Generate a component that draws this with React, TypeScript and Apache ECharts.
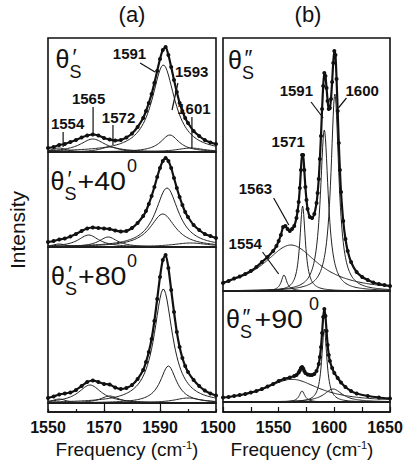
import React, { useEffect, useRef } from "react";
import * as echarts from "echarts";

// ---------- axes ----------
const A_X_MIN = 1550;
const A_X_MAX = 1610;
const B_X_MIN = 1500;
const B_X_MAX = 1650;
const A_TICK_LABELS = [1550, 1570, 1590];
const A_MAJOR_TICKS = [1570, 1590];
const B_TICK_LABELS = [1500, 1550, 1600, 1650];

// ---------- measured spectra (frequency, intensity) ----------
const A1_SPECTRUM = [
  [1550, 4], [1552, 5], [1554, 7], [1556, 8], [1558, 10], [1560, 12], [1562, 14.5], [1564, 16.5],
  [1566, 17.5], [1568, 16.5], [1570, 14], [1572, 12.5], [1574, 11.5], [1576, 12], [1578, 14.5],
  [1580, 18.5], [1582, 25], [1584, 34], [1585, 41], [1586, 49], [1587, 58], [1588, 69], [1589, 81],
  [1590, 93], [1591, 102], [1592, 105], [1593, 97], [1594, 85], [1595, 72], [1596, 60], [1597, 49],
  [1598, 41], [1599, 34], [1600, 29], [1602, 21], [1604, 16], [1606, 12], [1608, 9.5], [1610, 8],
];
const A2_SPECTRUM = [
  [1550, 5], [1552, 6], [1554, 7.5], [1556, 8.5], [1558, 10.5], [1560, 13], [1562, 16], [1564, 18.5],
  [1566, 19.5], [1568, 19], [1570, 18.5], [1572, 18], [1574, 16.5], [1576, 15.5], [1578, 16],
  [1580, 19], [1582, 24], [1584, 31], [1585, 36], [1586, 43], [1587, 51], [1588, 60], [1589, 70],
  [1590, 79], [1591, 86], [1592, 89], [1593, 86], [1594, 79], [1595, 69], [1596, 59], [1597, 50],
  [1598, 42], [1599, 35], [1600, 30], [1602, 22], [1604, 17], [1606, 13], [1608, 11], [1610, 9],
];
const A3_SPECTRUM = [
  [1550, 5], [1552, 6.5], [1554, 8.5], [1556, 9.5], [1558, 10.5], [1560, 13], [1562, 17], [1564, 21],
  [1566, 22.5], [1568, 21], [1570, 19], [1572, 18.5], [1574, 15.5], [1576, 14], [1578, 15],
  [1580, 18], [1582, 24], [1584, 33], [1585, 41], [1586, 51], [1587, 64], [1588, 82], [1589, 104],
  [1590, 126], [1591, 143], [1592, 148], [1593, 135], [1594, 113], [1595, 91], [1596, 71], [1597, 56],
  [1598, 45], [1599, 37], [1600, 31], [1602, 23], [1604, 17], [1606, 12.5], [1608, 9.5], [1610, 7.5],
];
const B1_SPECTRUM = [
  [1500, 8], [1505, 10], [1510, 12.5], [1515, 14.5], [1520, 17], [1525, 20], [1530, 24], [1535, 29],
  [1540, 34], [1545, 40], [1548, 45], [1550, 50], [1552, 56], [1554, 64], [1556, 65], [1558, 62],
  [1560, 60], [1562, 62], [1564, 65], [1566, 73], [1567, 80], [1568, 89], [1569, 103], [1570, 121],
  [1571, 136], [1572, 136], [1573, 121], [1574, 104], [1575, 91], [1576, 82], [1578, 74], [1580, 73],
  [1582, 77], [1584, 88], [1585, 98], [1586, 112], [1587, 132], [1588, 155], [1589, 182], [1590, 205],
  [1591, 218], [1592, 215], [1593, 203], [1594, 190], [1595, 182], [1596, 183], [1597, 192],
  [1598, 209], [1599, 228], [1600, 240], [1601, 236], [1602, 212], [1603, 180], [1604, 148],
  [1605, 121], [1606, 99], [1608, 70], [1610, 52], [1612, 40], [1615, 29], [1620, 19], [1625, 14],
  [1630, 11], [1635, 8.5], [1640, 7], [1645, 6], [1650, 5],
];
const B2_SPECTRUM = [
  [1500, 4.5], [1505, 5], [1510, 6], [1515, 7], [1520, 8], [1525, 9.5], [1530, 11], [1535, 13],
  [1540, 15.5], [1545, 18], [1550, 21], [1555, 23], [1560, 24.5], [1564, 26], [1566, 27], [1568, 29.5],
  [1569, 31.5], [1570, 34], [1571, 35], [1572, 33.5], [1573, 31], [1574, 29], [1576, 27.5], [1578, 27],
  [1580, 27], [1582, 28], [1584, 31], [1586, 38], [1587, 45], [1588, 55], [1589, 69], [1590, 85],
  [1591, 93], [1592, 86], [1593, 71], [1594, 57], [1595, 47], [1596, 41], [1598, 34], [1600, 29],
  [1603, 24], [1606, 19.5], [1610, 15], [1615, 11], [1620, 8.5], [1630, 6], [1640, 4.5], [1650, 3.5],
];

// ---------- fitted Lorentzian components (centre, height, half width) ----------
const A1_CENTERS = [1554, 1566, 1572, 1591.2, 1593.5, 1601];
const A1_HEIGHTS = [4, 13, 5, 87, 17, 4];
const A1_WIDTHS = [3, 5.5, 4, 5, 4, 6];

const A2_CENTERS = [1554, 1564.5, 1571.5, 1591, 1592.5, 1601];
const A2_HEIGHTS = [3, 12, 10, 33, 59, 4];
const A2_WIDTHS = [3, 4.5, 4, 5.5, 5, 8];

const A3_CENTERS = [1554, 1565, 1572, 1591.2, 1593, 1600];
const A3_HEIGHTS = [4, 18, 7, 114, 37, 5];
const A3_WIDTHS = [3, 5, 4, 4, 3.5, 6];

const B1_CENTERS = [1554.8, 1561, 1571.5, 1591, 1600.5];
const B1_HEIGHTS = [16, 46, 85, 161, 197];
const B1_WIDTHS = [3, 30, 3, 4.3, 4.3];

const B2_CENTERS = [1562, 1571, 1591, 1599];
const B2_HEIGHTS = [22.7, 11, 73, 13];
const B2_WIDTHS = [30, 3, 2.8, 10];

// ---------- peak labels (text anchor and pointer, in data coordinates) ----------
const A1_LABELS = [
  { text: "1591", at: [1579.1, 98.5], line: [[1582.9, 89], [1588.2, 80]] },
  { text: "1593", at: [1601.3, 80.5], line: [[1596.4, 69], [1594.3, 42]] },
  { text: "1601", at: [1602.1, 43.5], line: [[1601.4, 35], [1601.4, 4]] },
  { text: "1565", at: [1564.5, 53.5], line: [[1566.1, 45], [1566.1, 17]] },
  { text: "1572", at: [1575.2, 34.5], line: [[1573.2, 27], [1573.2, 7]] },
  { text: "1554", at: [1557, 28.5], line: [[1555.4, 20], [1555.4, 5]] },
];
const B1_LABELS = [
  { text: "1591", at: [1565.9, 201], line: [[1579.1, 189], [1590, 173]] },
  { text: "1600", at: [1625, 201], line: [[1610.9, 193], [1603.6, 183]] },
  { text: "1571", at: [1558.6, 149.5], line: null },
  { text: "1563", at: [1529.1, 102.5], line: [[1545.5, 93], [1559.1, 66]] },
  { text: "1554", at: [1520, 47.5], line: [[1535.5, 39], [1550, 17]] },
];

const FONT = '"Liberation Sans", Arial, Helvetica, sans-serif';
const INK = "#111";

function lorentz(min: number, max: number, c: number, h: number, w: number) {
  const pts: number[][] = [];
  for (let x = min; x <= max + 1e-9; x += 0.5) {
    const d = (x - c) / w;
    pts.push([x, h / (1 + d * d)]);
  }
  return pts;
}

type Panel = {
  grid: { left: number; top: number; width: number; height: number };
  xMin: number;
  xMax: number;
  yMax: number;
  spectrum: number[][];
  centers: number[];
  heights: number[];
  widths: number[];
};

const PANELS: Panel[] = [
  { grid: { left: 48, top: 38, width: 168, height: 114 }, xMin: A_X_MIN, xMax: A_X_MAX, yMax: 114, spectrum: A1_SPECTRUM, centers: A1_CENTERS, heights: A1_HEIGHTS, widths: A1_WIDTHS },
  { grid: { left: 48, top: 152, width: 168, height: 95 }, xMin: A_X_MIN, xMax: A_X_MAX, yMax: 95, spectrum: A2_SPECTRUM, centers: A2_CENTERS, heights: A2_HEIGHTS, widths: A2_WIDTHS },
  { grid: { left: 48, top: 247, width: 168, height: 156 }, xMin: A_X_MIN, xMax: A_X_MAX, yMax: 156, spectrum: A3_SPECTRUM, centers: A3_CENTERS, heights: A3_HEIGHTS, widths: A3_WIDTHS },
  { grid: { left: 223, top: 38, width: 167, height: 253 }, xMin: B_X_MIN, xMax: B_X_MAX, yMax: 253, spectrum: B1_SPECTRUM, centers: B1_CENTERS, heights: B1_HEIGHTS, widths: B1_WIDTHS },
  { grid: { left: 223, top: 291, width: 167, height: 111 }, xMin: B_X_MIN, xMax: B_X_MAX, yMax: 111, spectrum: B2_SPECTRUM, centers: B2_CENTERS, heights: B2_HEIGHTS, widths: B2_WIDTHS },
];

function buildOption() {
  const grids: any[] = [];
  const xAxes: any[] = [];
  const yAxes: any[] = [];
  const series: any[] = [];
  const border = { show: true, borderColor: INK, borderWidth: 1.6, backgroundColor: "transparent" };

  PANELS.forEach((p, i) => {
    grids.push({ ...p.grid, ...border });
    xAxes.push({ type: "value", gridIndex: i, min: p.xMin, max: p.xMax, show: false });
    yAxes.push({ type: "value", gridIndex: i, min: 0, max: p.yMax, show: false });
    p.centers.forEach((c, k) => {
      series.push({
        type: "line", xAxisIndex: i, yAxisIndex: i, silent: true, z: 2,
        data: lorentz(p.xMin, p.xMax, c, p.heights[k], p.widths[k]),
        showSymbol: false, symbol: "none", lineStyle: { color: "#222", width: 1 },
      });
    });
    series.push({
      type: "line", xAxisIndex: i, yAxisIndex: i, silent: true, z: 3,
      data: p.spectrum, smooth: 0.25, symbol: "circle", symbolSize: 4, showSymbol: true,
      itemStyle: { color: INK }, lineStyle: { color: INK, width: 2.2 },
    });
  });

  const tickRich = { b: { fontSize: 16, fontWeight: "bold", fontFamily: FONT, color: INK } };
  const labelStyle = { fontSize: 16, fontWeight: "bold", color: INK, fontFamily: FONT, margin: 7, rich: tickRich };
  // A strip -> index 5
  grids.push({ left: 48, top: 403, width: 168, height: 9, ...border });
  xAxes.push({
    type: "value", gridIndex: 5, min: A_X_MIN, max: A_X_MAX, interval: 10, position: "bottom",
    axisLine: { show: true, lineStyle: { color: INK, width: 1.6 } },
    axisTick: { show: true, inside: true, length: 3, lineStyle: { color: INK, width: 1.2 } },
    splitLine: { show: false },
    axisLabel: { ...labelStyle, formatter: (v: number) => (A_TICK_LABELS.includes(v) ? `{b|${v}}` : "") },
  });
  yAxes.push({ type: "value", gridIndex: 5, min: 0, max: 1, show: false });
  series.push({
    type: "line", xAxisIndex: 5, yAxisIndex: 5, silent: true, data: [[A_X_MIN, 0], [A_X_MAX, 0]],
    symbol: "none", lineStyle: { opacity: 0 },
    markLine: {
      silent: true, symbol: "none", label: { show: false }, animation: false,
      lineStyle: { color: INK, type: "solid", width: 1.2 },
      data: A_MAJOR_TICKS.map((t) => ({ xAxis: t })),
    },
  });
  // B strip -> index 6
  grids.push({ left: 223, top: 402, width: 167, height: 10, ...border });
  xAxes.push({
    type: "value", gridIndex: 6, min: B_X_MIN, max: B_X_MAX, interval: 25, position: "bottom",
    axisLine: { show: true, lineStyle: { color: INK, width: 1.6 } },
    axisTick: { show: true, inside: true, length: 5, lineStyle: { color: INK, width: 1.2 } },
    splitLine: { show: false },
    axisLabel: {
      ...labelStyle, padding: [0, 10, 0, 0],
      formatter: (v: number) => (B_TICK_LABELS.includes(v) ? `{b|${v}}` : ""),
    },
  });
  yAxes.push({ type: "value", gridIndex: 6, min: 0, max: 1, show: false });

  return { animation: false, grid: grids, xAxis: xAxes, yAxis: yAxes, series };
}

function txt(x: number, y: number, s: string, size: number, extra: any = {}) {
  return {
    type: "text", x, y, silent: true, z: 10,
    style: { text: s, fontSize: size, fontFamily: FONT, fill: INK, align: "center", verticalAlign: "middle", ...extra },
  };
}

function staticGraphics() {
  const g: any[] = [];
  g.push(txt(132, 14, "(a)", 22));
  g.push(txt(308, 14, "(b)", 22));
  g.push({ ...txt(17, 230, "Intensity", 21), rotation: Math.PI / 2 });
  const freq = (cx: number) => ({
    type: "text", x: cx, y: 449, silent: true,
    style: {
      text: "{a|Frequency (cm}{b|-1}{a|)}", align: "center", verticalAlign: "middle",
      fontFamily: FONT, fill: INK,
      rich: {
        a: { fontSize: 19, fontFamily: FONT, fill: INK, lineHeight: 20 },
        b: { fontSize: 11, fontFamily: FONT, fill: INK, verticalAlign: "top", lineHeight: 20 },
      },
    },
  });
  g.push(freq(127));
  g.push(freq(302));
  // theta labels
  const theta = (x: number, y: number, prime: string, suffix: string, sfxOffset: number, supX: number) => {
    g.push(txt(x, y, "θ", 25, { lineHeight: 16 }));
    g.push(txt(x + (prime === "″" ? 13.5 : 12), y - 3, prime, 22, { lineHeight: 10 }));
    g.push(txt(x + 13, y + 13, "S", 18, { lineHeight: 10 }));
    if (suffix) {
      g.push({ ...txt(x + sfxOffset, y, suffix, 26, { align: "left", lineHeight: 20 }), scaleX: 1.1 });
      g.push(txt(supX, y - 15, "0", 18, { lineHeight: 10 }));
    }
  };
  theta(62.5, 59, "′", "", 0, 0);
  theta(57.5, 181, "′", "+40", 20, 132);
  theta(58, 276, "′", "+80", 20, 132);
  theta(235, 60, "″", "", 0, 0);
  theta(233, 319, "″", "+90", 21.5, 314);
  return g;
}

export default function App() {
  const ref = useRef<HTMLDivElement>(null);
  useEffect(() => {
    const chart = echarts.init(ref.current!, null, { renderer: "svg" });
    chart.setOption(buildOption());
    const g = staticGraphics();
    const addLabels = (labels: any[], gridIndex: number) => {
      labels.forEach((l) => {
        const p = chart.convertToPixel({ gridIndex } as any, l.at) as number[];
        g.push(txt(p[0], p[1], l.text, 15, { fontWeight: "bold" }));
        if (l.line) {
          const a = chart.convertToPixel({ gridIndex } as any, l.line[0]) as number[];
          const b = chart.convertToPixel({ gridIndex } as any, l.line[1]) as number[];
          g.push({
            type: "line", silent: true, z: 10,
            shape: { x1: a[0], y1: a[1], x2: b[0], y2: b[1] },
            style: { stroke: INK, lineWidth: 1.2 },
          });
        }
      });
    };
    addLabels(A1_LABELS, 0);
    addLabels(B1_LABELS, 3);
    chart.setOption({ graphic: g });
    return () => chart.dispose();
  }, []);
  return <div ref={ref} style={{ position: "absolute", left: 0, top: 0, width: 409, height: 465 }} />;
}
